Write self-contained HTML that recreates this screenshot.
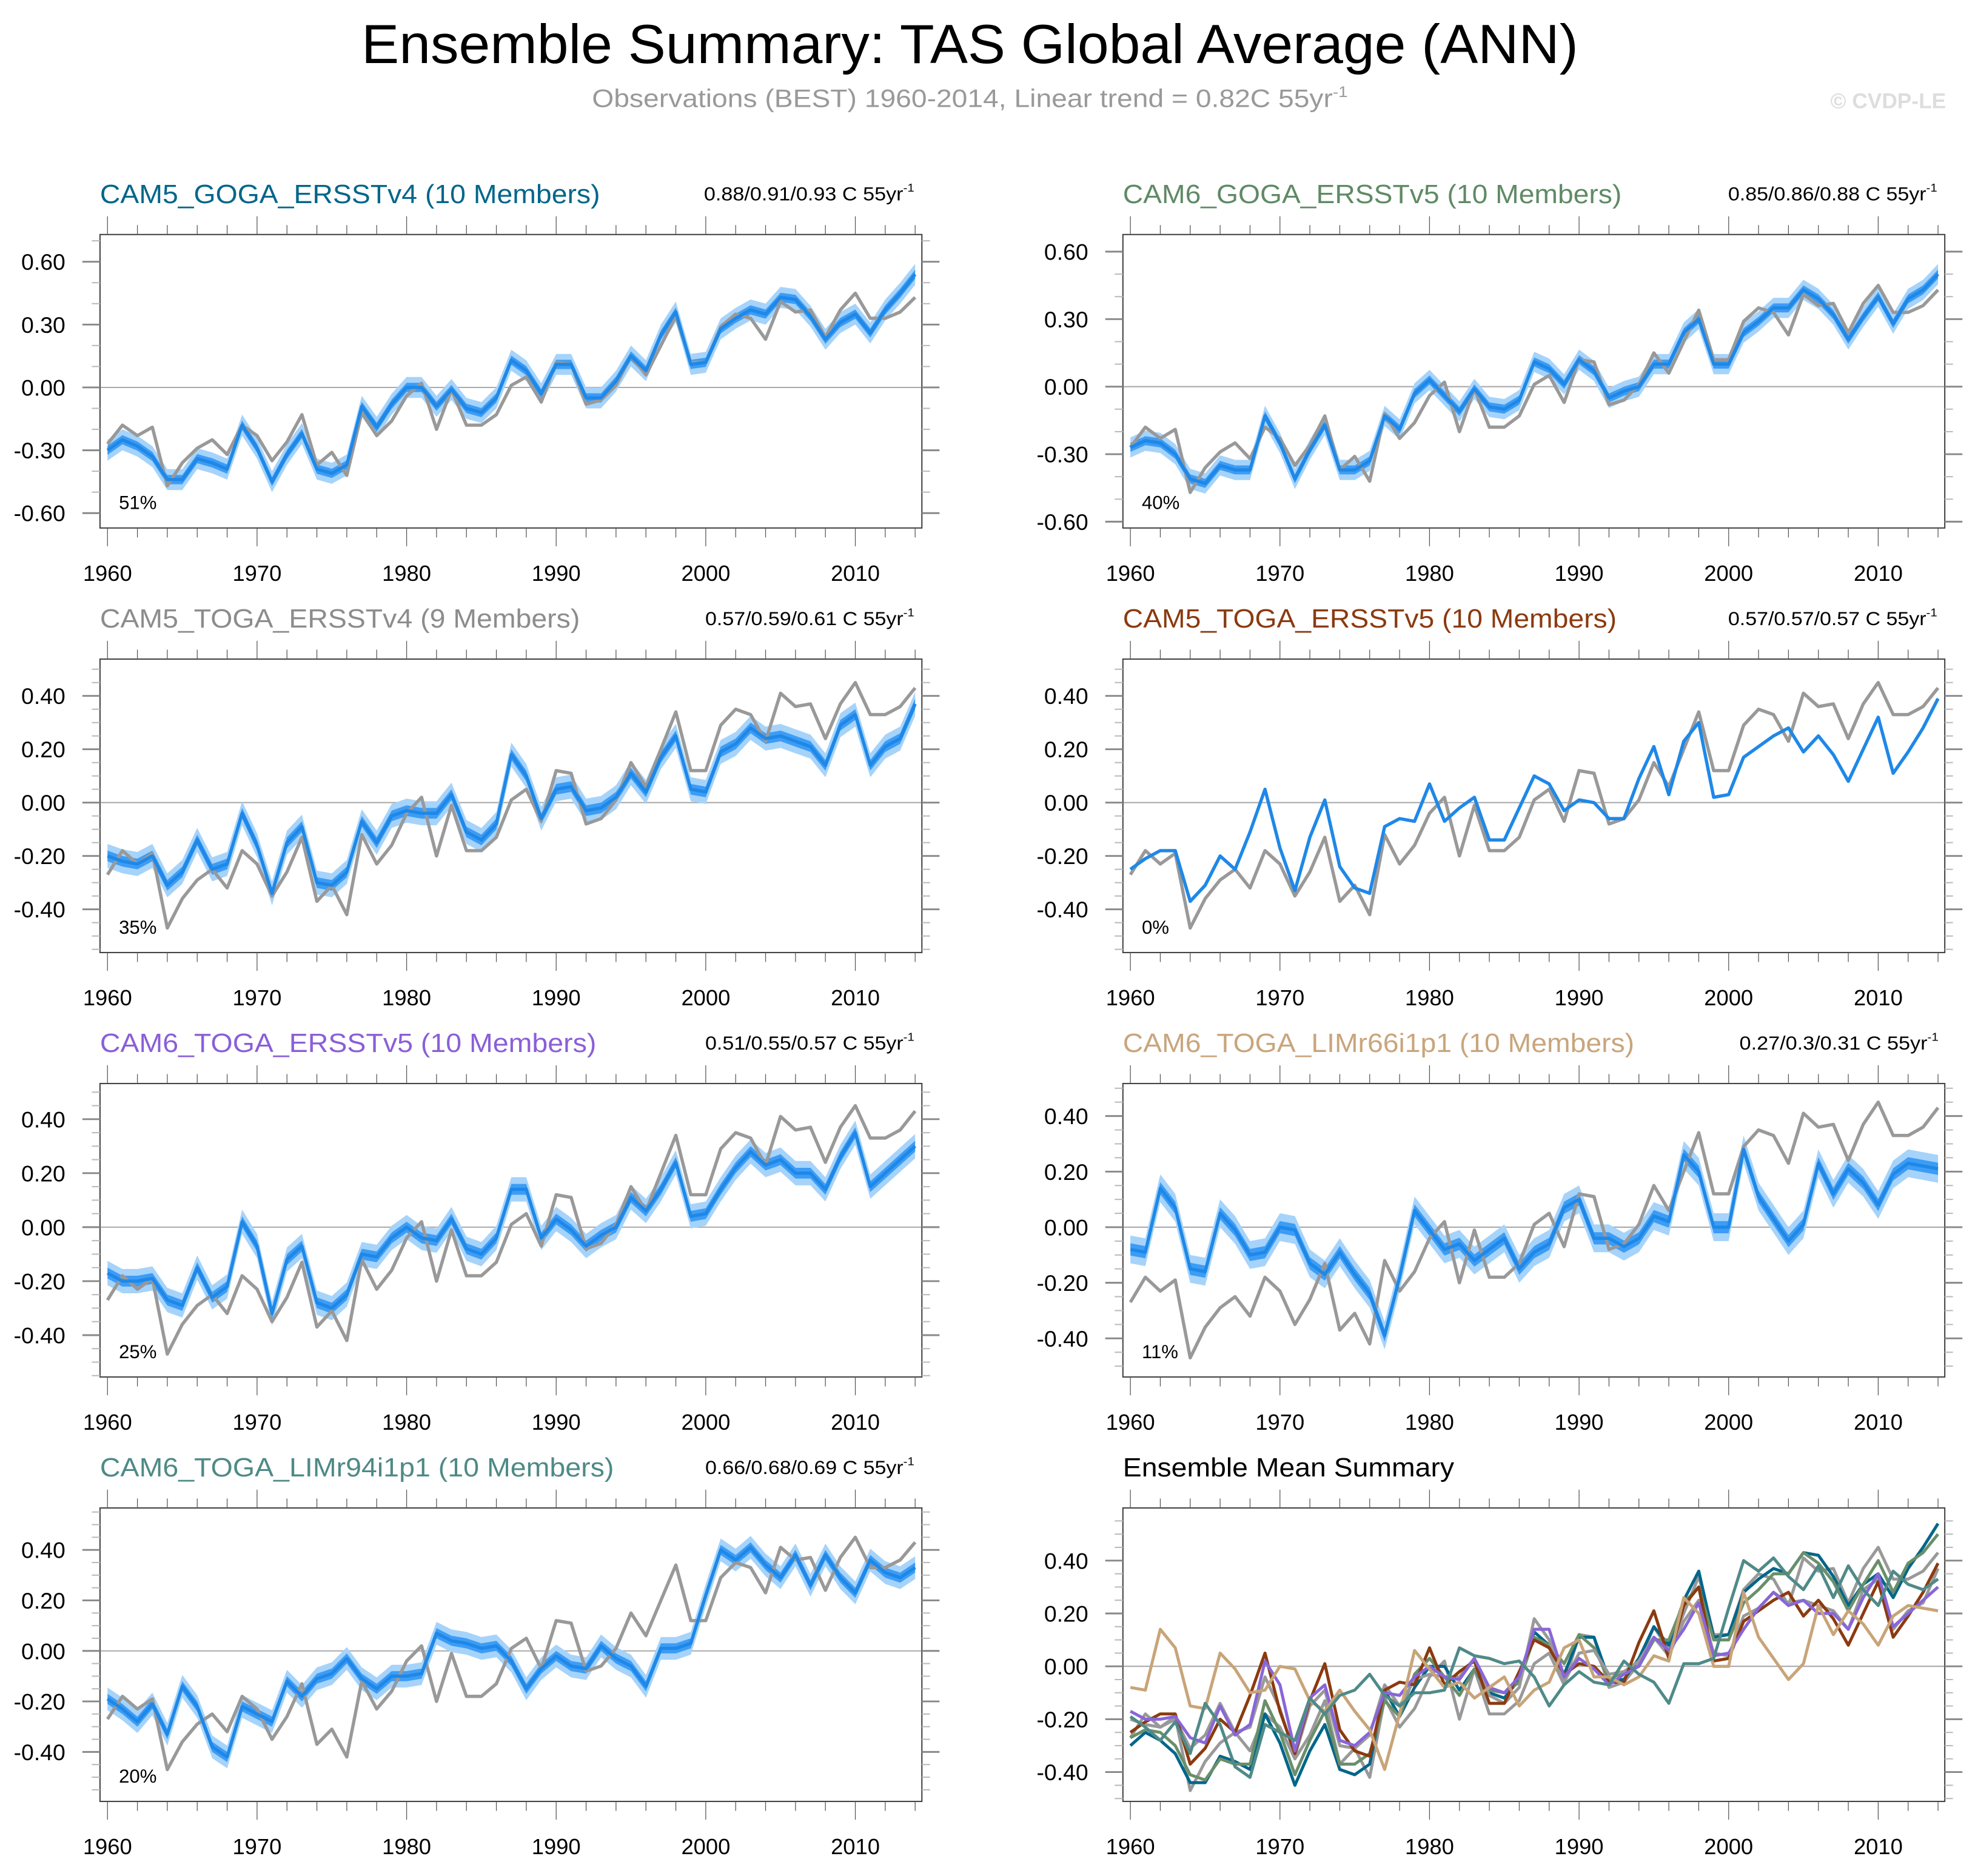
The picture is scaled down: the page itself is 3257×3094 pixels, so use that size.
<!DOCTYPE html>
<html><head><meta charset="utf-8"><title>Ensemble Summary: TAS Global Average (ANN)</title>
<style>
html,body{margin:0;padding:0;background:#fff;}
svg{display:block;}
text{font-family:"Liberation Sans",Arial,sans-serif;}
</style></head>
<body>
<svg id="chart" xmlns="http://www.w3.org/2000/svg" width="3257" height="3094" viewBox="0 0 1568 1489.5">
<rect x="0" y="0" width="1568" height="1489.5" fill="#fff"/>
<text x="770" y="50" font-size="44" text-anchor="middle" textLength="966" lengthAdjust="spacingAndGlyphs" fill="#000">Ensemble Summary: TAS Global Average (ANN)</text>
<text x="770" y="85" font-size="20" text-anchor="middle" fill="#999" textLength="600" lengthAdjust="spacingAndGlyphs">Observations (BEST) 1960-2014, Linear trend = 0.82C 55yr<tspan dy="-8" font-size="12">-1</tspan></text>
<text x="1545" y="86" font-size="17" font-weight="bold" text-anchor="end" fill="#ddd">© CVDP-LE</text>
<g id="panels"></g>
</svg>
<script>
// ---------- DATA ----------
const startYear = 1960;
const years = Array.from({length: 55}, (_, i) => startYear + i);
const xTickYears = [1960, 1970, 1980, 1990, 2000, 2010];
const yTicksWide = [-0.6, -0.3, 0.0, 0.3, 0.6];
const yTicksNarrow = [-0.4, -0.2, 0.0, 0.2, 0.4];

const obsBEST = [-0.27,-0.18,-0.23,-0.19,-0.47,-0.36,-0.29,-0.25,-0.32,-0.18,-0.23,-0.35,-0.26,-0.13,-0.37,-0.31,-0.42,-0.12,-0.23,-0.16,-0.04,0.02,-0.20,-0.01,-0.18,-0.18,-0.13,0.01,0.05,-0.07,0.12,0.11,-0.08,-0.06,0.01,0.15,0.06,0.20,0.34,0.12,0.12,0.29,0.35,0.33,0.23,0.41,0.36,0.37,0.24,0.37,0.45,0.33,0.33,0.36,0.43];

const meanCAM5GOGAv4 = [-0.30,-0.25,-0.28,-0.33,-0.44,-0.44,-0.34,-0.36,-0.39,-0.18,-0.29,-0.45,-0.32,-0.22,-0.39,-0.41,-0.37,-0.09,-0.19,-0.08,0.00,0.00,-0.09,-0.01,-0.10,-0.12,-0.05,0.13,0.08,-0.03,0.11,0.11,-0.05,-0.05,0.03,0.15,0.08,0.25,0.36,0.11,0.12,0.28,0.33,0.37,0.35,0.43,0.42,0.34,0.23,0.31,0.35,0.26,0.37,0.45,0.54];
const meanCAM6GOGAv5 = [-0.27,-0.24,-0.25,-0.30,-0.41,-0.43,-0.35,-0.37,-0.37,-0.13,-0.25,-0.41,-0.28,-0.17,-0.37,-0.37,-0.33,-0.13,-0.19,-0.03,0.03,-0.04,-0.11,-0.01,-0.09,-0.10,-0.06,0.11,0.08,0.01,0.12,0.07,-0.05,-0.02,0.00,0.10,0.10,0.24,0.30,0.10,0.10,0.24,0.29,0.35,0.35,0.43,0.39,0.32,0.21,0.31,0.40,0.28,0.39,0.43,0.50];
const meanCAM5TOGAv4 = [-0.20,-0.22,-0.23,-0.20,-0.31,-0.26,-0.14,-0.25,-0.23,-0.04,-0.16,-0.34,-0.15,-0.09,-0.30,-0.31,-0.26,-0.07,-0.15,-0.05,-0.03,-0.04,-0.04,0.03,-0.11,-0.14,-0.08,0.18,0.10,-0.06,0.05,0.06,-0.03,-0.02,0.02,0.11,0.04,0.17,0.25,0.05,0.04,0.19,0.22,0.28,0.24,0.25,0.23,0.21,0.14,0.29,0.33,0.14,0.21,0.24,0.37];
const meanCAM5TOGAv5 = [-0.25,-0.21,-0.18,-0.18,-0.37,-0.31,-0.20,-0.25,-0.11,0.05,-0.17,-0.33,-0.13,0.01,-0.24,-0.32,-0.34,-0.09,-0.06,-0.07,0.07,-0.07,-0.02,0.02,-0.14,-0.14,-0.02,0.10,0.07,-0.03,0.01,0.00,-0.06,-0.06,0.09,0.21,0.03,0.23,0.30,0.02,0.03,0.17,0.21,0.25,0.28,0.19,0.25,0.18,0.08,0.20,0.32,0.11,0.19,0.28,0.39];
const meanCAM6TOGAv5 = [-0.17,-0.20,-0.20,-0.19,-0.27,-0.29,-0.15,-0.26,-0.22,0.02,-0.07,-0.32,-0.12,-0.07,-0.28,-0.30,-0.25,-0.10,-0.11,-0.04,0.00,-0.04,-0.05,0.03,-0.08,-0.10,-0.04,0.14,0.14,-0.04,0.03,-0.01,-0.07,-0.03,0.00,0.11,0.06,0.14,0.24,0.04,0.05,0.14,0.22,0.28,0.23,0.25,0.20,0.20,0.14,0.26,0.35,0.15,0.20,0.25,0.30];
const meanCAM6LIMr66 = [-0.08,-0.09,0.14,0.07,-0.15,-0.16,0.05,-0.01,-0.10,-0.09,0.00,-0.01,-0.13,-0.17,-0.09,-0.17,-0.24,-0.39,-0.18,0.06,-0.01,-0.08,-0.06,-0.12,-0.08,-0.04,-0.15,-0.09,-0.06,0.07,0.10,-0.04,-0.04,-0.07,-0.04,0.04,0.02,0.26,0.20,0.00,0.00,0.28,0.11,0.03,-0.05,0.01,0.23,0.12,0.21,0.16,0.08,0.19,0.23,0.22,0.21];
const meanCAM6LIMr94 = [-0.19,-0.23,-0.28,-0.21,-0.33,-0.14,-0.22,-0.38,-0.42,-0.22,-0.25,-0.28,-0.12,-0.18,-0.11,-0.09,-0.03,-0.11,-0.15,-0.10,-0.10,-0.09,0.07,0.04,0.03,0.01,0.02,-0.04,-0.15,-0.07,-0.02,-0.06,-0.07,0.02,-0.03,-0.06,-0.14,0.01,0.01,0.03,0.22,0.40,0.36,0.41,0.34,0.29,0.38,0.26,0.38,0.29,0.23,0.36,0.31,0.29,0.33];

// ensemble spread half-widths (outer = min/max envelope, inner = interquartile)
const spreadOuter = [0.05, 0.045, 0.045, 0.0, 0.045, 0.05, 0.045];
const spreadInner = [0.022, 0.02, 0.02, 0.0, 0.02, 0.022, 0.02];

const panelTitles = ["CAM5_GOGA_ERSSTv4 (10 Members)","CAM6_GOGA_ERSSTv5 (10 Members)","CAM5_TOGA_ERSSTv4 (9 Members)","CAM5_TOGA_ERSSTv5 (10 Members)","CAM6_TOGA_ERSSTv5 (10 Members)","CAM6_TOGA_LIMr66i1p1 (10 Members)","CAM6_TOGA_LIMr94i1p1 (10 Members)"];
const trendLabels = ["0.88/0.91/0.93 C 55yr","0.85/0.86/0.88 C 55yr","0.57/0.59/0.61 C 55yr","0.57/0.57/0.57 C 55yr","0.51/0.55/0.57 C 55yr","0.27/0.3/0.31 C 55yr","0.66/0.68/0.69 C 55yr"];
const pctLabels = ["51%","40%","35%","0%","25%","11%","20%"];
const allMeans = [meanCAM5GOGAv4, meanCAM6GOGAv5, meanCAM5TOGAv4, meanCAM5TOGAv5, meanCAM6TOGAv5, meanCAM6LIMr66, meanCAM6LIMr94];

// ---------- STYLE / LAYOUT ----------
const titleColors = ["#00668a","#5f8a65","#8c8c8c","#8b3a0f","#8a5fd8","#c9a57c","#4e8a86"];
const titleWidths = [397, 396, 381, 392, 394, 406, 408, 263];
const trendWidths = [167, 166, 166, 166, 166, 158, 166];
const trendStart = [175, 174, 174, 174, 174, 165, 174];
const sumColors = ["#00668a","#6a8f6a","#999999","#8b3a0f","#8866d8","#c8a478","#4f8a88"];
const panelNames = ["cam5-goga-ersstv4","cam6-goga-ersstv5","cam5-toga-ersstv4","cam5-toga-ersstv5","cam6-toga-ersstv5","cam6-toga-limr66","cam6-toga-limr94","ensemble-mean-summary"];
const colX = [79.4, 891.5];
const rowY = [186.2, 523.3, 860.3, 1197.3];
const boxW = 652.5, boxH = 233;
const yRanges = [[-0.671,0.730],[-0.628,0.676],[-0.562,0.538],[-0.562,0.538],[-0.555,0.532],[-0.539,0.517],[-0.596,0.566],[-0.511,0.599]];
const xMin = 1959.5, xMax = 2014.45;

const NS = "http://www.w3.org/2000/svg";
const root = document.getElementById("panels");
function mk(tag, attrs, parent) {
  const e = document.createElementNS(NS, tag);
  for (const k in attrs) e.setAttribute(k, attrs[k]);
  parent.appendChild(e);
  return e;
}

for (let p = 0; p < 8; p++) {
  const bx = colX[p % 2], by = rowY[Math.floor(p / 2)];
  const [yMin, yMax] = yRanges[p];
  const wide = p < 2;
  const yTicks = wide ? yTicksWide : yTicksNarrow;
  const minorStep = wide ? 0.1 : 0.05;
  const xs = yr => bx + (yr - xMin) / (xMax - xMin) * boxW;
  const ys = v => by + (yMax - v) / (yMax - yMin) * boxH;

  const g = mk("g", {}, root);
  
  

  // title
  const t = mk("text", {x: bx, y: by - 25, "font-size": 21, fill: p < 7 ? titleColors[p] : "#000", textLength: titleWidths[p], lengthAdjust: "spacingAndGlyphs"}, g);
  t.textContent = p < 7 ? panelTitles[p] : "Ensemble Mean Summary";
  
  

  if (p < 7) {
    const tr = mk("text", {x: bx + boxW + 2 - trendStart[p], y: by - 27, "font-size": 15, fill: "#000", textLength: trendWidths[p], lengthAdjust: "spacingAndGlyphs"}, g);
    tr.textContent = trendLabels[p];
    const sup = mk("tspan", {dy: -7, "font-size": 9}, tr);
    sup.textContent = "-1";
    
    
  }

  // clip
  const cid = "clip" + p;
  const cp = mk("clipPath", {id: cid}, g);
  mk("rect", {x: bx, y: by, width: boxW, height: boxH}, cp);

  // zero line
  const zl = mk("line", {x1: bx, x2: bx + boxW, y1: ys(0), y2: ys(0), stroke: "#aaa", "stroke-width": 1}, g);
  
  

  const plot = mk("g", {"clip-path": "url(#" + cid + ")"}, g);
  function linePath(arr) { return arr.map((v, i) => (i ? "L" : "M") + xs(years[i]).toFixed(2) + "," + ys(v).toFixed(2)).join(""); }
  function bandPath(arr, w) {
    let d = arr.map((v, i) => (i ? "L" : "M") + xs(years[i]).toFixed(2) + "," + ys(v + w).toFixed(2)).join("");
    for (let i = arr.length - 1; i >= 0; i--) d += "L" + xs(years[i]).toFixed(2) + "," + ys(arr[i] - w).toFixed(2);
    return d + "Z";
  }

  if (p < 7) {
    const m = allMeans[p];
    if (spreadOuter[p] > 0) {
      const b1 = mk("path", {d: bandPath(m, spreadOuter[p]), fill: "#a6d3fa", stroke: "none"}, plot);
      
      
      const b2 = mk("path", {d: bandPath(m, spreadInner[p]), fill: "#3d9cf5", stroke: "none"}, plot);
      
      
    }
    const ob = mk("path", {d: linePath(obsBEST), fill: "none", stroke: "#999", "stroke-width": 2.6, "stroke-linejoin": "round"}, plot);
    
    
    const ml = mk("path", {d: linePath(m), fill: "none", stroke: "#1e88e8", "stroke-width": 2.6, "stroke-linejoin": "round"}, plot);
    
    
    const pc = mk("text", {x: bx + 15, y: by + 218, "font-size": 15, fill: "#000"}, g);
    pc.textContent = pctLabels[p];
    
    
  } else {
    const ob = mk("path", {d: linePath(obsBEST), fill: "none", stroke: "#999", "stroke-width": 2.4, "stroke-linejoin": "round"}, plot);
    
    
    for (let k = 0; k < 7; k++) {
      const sl = mk("path", {d: linePath(allMeans[k]), fill: "none", stroke: sumColors[k], "stroke-width": 2.4, "stroke-linejoin": "round"}, plot);
      
      
    }
  }

  // box
  const box = mk("rect", {x: bx, y: by, width: boxW, height: boxH, fill: "none", stroke: "#444", "stroke-width": 1}, g);
  
  

  // x ticks (top & bottom, outward)
  for (let yr = 1960; yr <= 2014; yr += 2) {
    const major = (yr % 10 === 0);
    const len = major ? 14.5 : 7.5;
    const X = xs(yr);
    mk("line", {x1: X, x2: X, y1: by, y2: by - len, stroke: "#555", "stroke-width": 0.6}, g);
    mk("line", {x1: X, x2: X, y1: by + boxH, y2: by + boxH + len, stroke: "#555", "stroke-width": 0.6}, g);
  }
  xTickYears.forEach(yr => {
    const lt = mk("text", {x: xs(yr), y: by + boxH + 42, "font-size": 17.5, "text-anchor": "middle", fill: "#000"}, g);
    lt.textContent = String(yr);
    
    
  });

  // y ticks (left & right, outward)
  const nMin = Math.ceil(yMin / minorStep - 1e-6), nMax = Math.floor(yMax / minorStep + 1e-6);
  for (let n = nMin; n <= nMax; n++) {
    const v = n * minorStep;
    const major = yTicks.some(tv => Math.abs(tv - v) < 1e-6);
    const len = major ? 14 : 6.5;
    const Y = ys(v);
    mk("line", {x1: bx, x2: bx - len, y1: Y, y2: Y, stroke: major ? "#888" : "#bbb", "stroke-width": major ? 1.4 : 1}, g);
    mk("line", {x1: bx + boxW, x2: bx + boxW + len, y1: Y, y2: Y, stroke: major ? "#888" : "#bbb", "stroke-width": major ? 1.4 : 1}, g);
  }
  yTicks.forEach(v => {
    if (v < yMin || v > yMax) return;
    const lt = mk("text", {x: bx - 27.5, y: ys(v) + 6.5, "font-size": 18, "text-anchor": "end", fill: "#000"}, g);
    lt.textContent = v.toFixed(2);
    
    
  });
}
</script>
</body></html>
